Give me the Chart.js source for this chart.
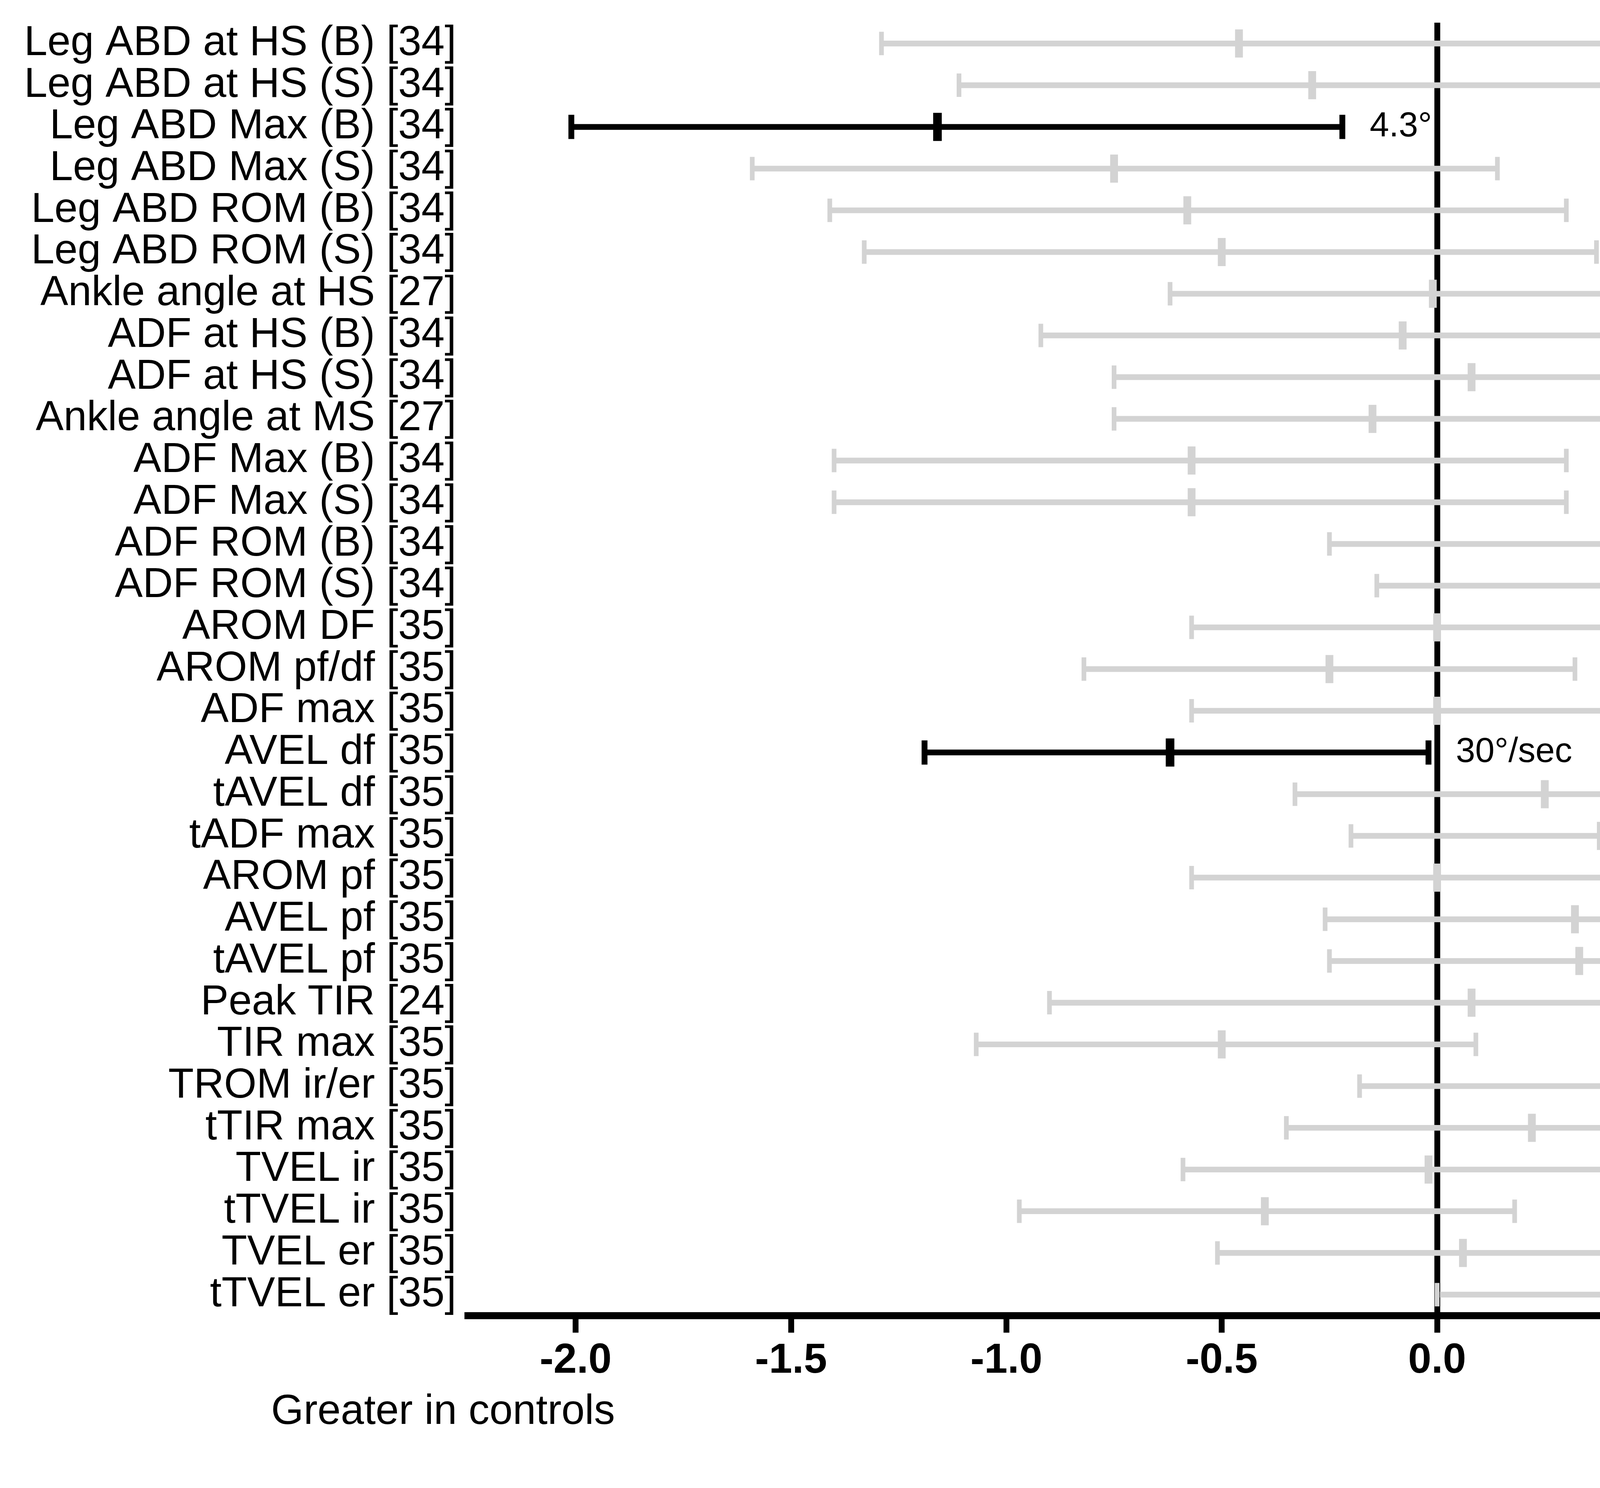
<!DOCTYPE html>
<html>
<head>
<meta charset="utf-8">
<script src="https://cdn.jsdelivr.net/npm/chart.js@4.4.1/dist/chart.umd.min.js"></script>
<style>
  html, body { margin: 0; padding: 0; background: #fff; }
  canvas { display: block; }
</style>
</head>
<body>
<canvas id="forest" width="6595" height="3808"></canvas>
<script>
const categories = [
  "Leg ABD at HS (B) [34]", "Leg ABD at HS (S) [34]", "Leg ABD Max (B) [34]",
  "Leg ABD Max (S) [34]", "Leg ABD ROM (B) [34]", "Leg ABD ROM (S) [34]",
  "Ankle angle at HS [27]", "ADF at HS (B) [34]", "ADF at HS (S) [34]",
  "Ankle angle at MS [27]", "ADF Max (B) [34]", "ADF Max (S) [34]",
  "ADF ROM (B) [34]", "ADF ROM (S) [34]", "AROM DF [35]", "AROM pf/df [35]",
  "ADF max [35]", "AVEL df [35]", "tAVEL df [35]", "tADF max [35]",
  "AROM pf [35]", "AVEL pf [35]", "tAVEL pf [35]", "Peak TIR [24]",
  "TIR max [35]", "TROM ir/er [35]", "tTIR max [35]", "TVEL ir [35]",
  "tTVEL ir [35]", "TVEL er [35]", "tTVEL er [35]"
];

const means = [
  -0.46, -0.29, -1.16, -0.75, -0.58, -0.50, -0.01, -0.08, 0.08, -0.15,
  -0.57, -0.57, 0.62, 0.75, 0.00, -0.25, 0.00, -0.62, 0.25, 0.38,
  0.00, 0.32, 0.33, 0.08, -0.50, 0.40, 0.22, -0.02, -0.40, 0.06, 0.59
];

const lows = [
  -1.29, -1.11, -2.01, -1.59, -1.41, -1.33, -0.62, -0.92, -0.75, -0.75,
  -1.40, -1.40, -0.25, -0.14, -0.57, -0.82, -0.57, -1.19, -0.33, -0.20,
  -0.57, -0.26, -0.25, -0.90, -1.07, -0.18, -0.35, -0.59, -0.97, -0.51, 0.00
];

const highs = [
  0.40, 0.56, -0.22, 0.14, 0.30, 0.37, 0.59, 0.76, 0.92, 0.46,
  0.30, 0.30, 1.46, 1.59, 0.57, 0.32, 0.57, -0.02, 0.82, 0.95,
  0.57, 0.88, 0.90, 1.06, 0.09, 0.97, 0.79, 0.55, 0.18, 0.63, 1.17
];

// rows whose interval excludes zero, drawn in black with a note
const highlighted = [2, 17];
const notes = { 2: "4.3\u00b0", 17: "30\u00b0/sec" };

const xTicks = [-2.0, -1.5, -1.0, -0.5, 0.0, 0.5, 1.0, 1.5, 2.0];
const sideCaptions = ["Greater in controls", "Greater in cases"];

const GREY = "#d3d3d3";
const BLACK = "#000000";
const FONT = "'Liberation Sans', Arial, sans-serif";

function rowColor(i) {
  return highlighted.includes(i) ? BLACK : GREY;
}

function points(values) {
  return values.map((v, i) => ({ x: v, y: i }));
}

const notesPlugin = {
  id: "notes",
  afterDatasetsDraw(chart) {
    const { ctx, scales } = chart;
    ctx.save();
    ctx.fillStyle = BLACK;
    ctx.font = `89px ${FONT}`;
    ctx.textBaseline = "middle";
    ctx.textAlign = "left";
    Object.entries(notes).forEach(([row, text]) => {
      const i = Number(row);
      ctx.fillText(text, scales.x.getPixelForValue(highs[i]) + 70, scales.y.getPixelForValue(i));
    });

    ctx.font = `107px ${FONT}`;
    ctx.textBaseline = "alphabetic";
    ctx.fillText(sideCaptions[0], 694, 3644);
    ctx.fillText(sideCaptions[1], 5500, 3659);
    ctx.restore();
  },
};

const capStyle = (sizeGrey, sizeBlack, widthGrey, widthBlack) => ({
  type: "scatter",
  pointStyle: "line",
  rotation: 90,
  radius: (c) => (highlighted.includes(c.dataIndex) ? sizeBlack : sizeGrey),
  hoverRadius: (c) => (highlighted.includes(c.dataIndex) ? sizeBlack : sizeGrey),
  borderWidth: (c) => (highlighted.includes(c.dataIndex) ? widthBlack : widthGrey),
  borderColor: (c) => rowColor(c.dataIndex),
  backgroundColor: (c) => rowColor(c.dataIndex),
  order: 1,
});

new Chart(document.getElementById("forest"), {
  type: "bar",
  data: {
    labels: categories,
    datasets: [
      { ...capStyle(36, 36, 20, 22), data: points(means) },
      { ...capStyle(30, 31, 12, 15), data: points(lows) },
      { ...capStyle(30, 31, 12, 15), data: points(highs) },
      {
        type: "bar",
        data: lows.map((lo, i) => [lo, highs[i]]),
        backgroundColor: (c) => rowColor(c.dataIndex),
        barThickness: (c) => (highlighted.includes(c.dataIndex) ? 16 : 14),
        borderWidth: 0,
        borderSkipped: false,
        order: 2,
      },
    ],
  },
  options: {
    indexAxis: "y",
    responsive: false,
    animation: false,
    devicePixelRatio: 1,
    layout: { padding: { top: 49.5, right: 435, left: 0, bottom: 0 } },
    plugins: {
      legend: { display: false },
      tooltip: { enabled: false },
    },
    scales: {
      x: {
        type: "linear",
        min: -2.25,
        max: 2.25,
        afterBuildTicks: (scale) => {
          scale.ticks = xTicks.map((v) => ({ value: v }));
        },
        afterFit: (scale) => {
          scale.height = 441.5;
        },
        border: { display: true, color: BLACK, width: 18 },
        grid: {
          display: true,
          drawOnChartArea: true,
          drawTicks: true,
          color: (c) => (c.tick && c.tick.value === 0 ? BLACK : "rgba(0,0,0,0)"),
          lineWidth: 15,
          tickColor: BLACK,
          tickWidth: 15,
          tickLength: 44,
        },
        ticks: {
          color: BLACK,
          padding: 9,
          font: { family: FONT, size: 107, weight: "bold" },
          callback: (v) => Number(v).toFixed(1),
        },
      },
      y: {
        type: "category",
        offset: true,
        afterFit: (scale) => {
          scale.width = 1198;
          // let the layout padding alone decide the plot's top and bottom
          scale.paddingTop = 0;
          scale.paddingBottom = 0;
        },
        border: { display: false },
        grid: { display: false, drawTicks: false },
        ticks: {
          autoSkip: false,
          color: BLACK,
          padding: 30,
          font: { family: FONT, size: 107, lineHeight: 1 },
        },
      },
    },
  },
  plugins: [notesPlugin],
});
</script>
</body>
</html>
